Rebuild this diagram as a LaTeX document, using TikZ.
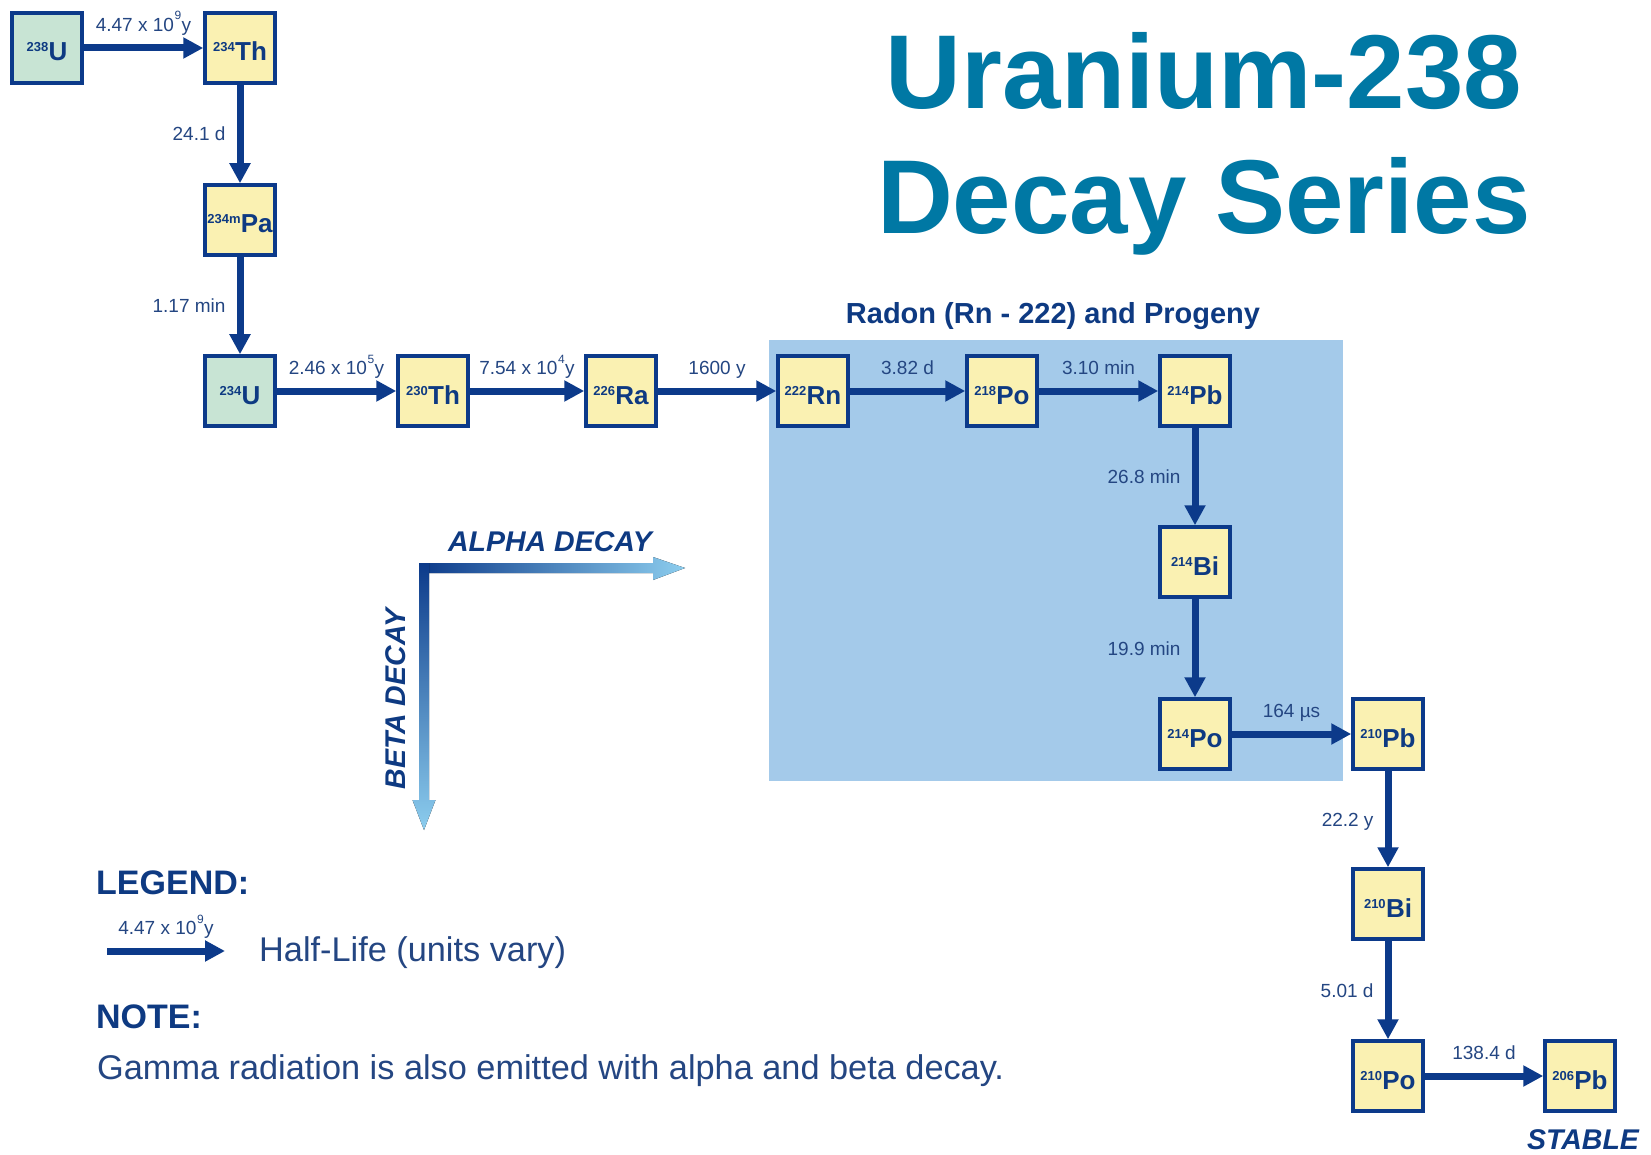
\documentclass[tikz,border=0pt]{standalone}
\usepackage{fontspec}
\setmainfont{Liberation Sans}
\usetikzlibrary{arrows.meta,calc}
\definecolor{navy}{RGB}{12,58,138}
\definecolor{navytext}{RGB}{14,58,130}
\definecolor{labc}{RGB}{36,70,130}
\definecolor{boxy}{RGB}{250,241,178}
\definecolor{boxg}{RGB}{200,228,212}
\definecolor{radbg}{RGB}{164,202,234}
\definecolor{titlec}{RGB}{0,120,164}
\definecolor{lightb}{RGB}{140,205,238}
\newcommand\iso[2]{\raisebox{9pt}{\fontsize{13}{13}\selectfont\bfseries #1}\kern0.3pt{\fontsize{26}{26}\selectfont\bfseries #2}}
\newcommand\expo[1]{\kern0.5pt\raisebox{11.5pt}{\fontsize{12}{12}\selectfont #1}\kern0.5pt}
\begin{document}
\begin{tikzpicture}[x=1pt,y=-1pt,
  isobox/.style={draw=navy, line width=3.5pt, minimum size=70pt, inner sep=0pt,
     fill=boxy, text height=26pt, text depth=0pt, text=navytext},
  isogreen/.style={isobox, fill=boxg},
  arr/.style={draw=navy, line width=7pt, -{Triangle[length=20pt,width=20pt]}},
  lab/.style={font=\fontsize{19}{19}\selectfont, text=labc, inner sep=0pt},
  hlab/.style={lab, midway, anchor=base, yshift=16.5pt},
  vlab/.style={lab, midway, anchor=base east, xshift=-11pt, yshift=-7pt},
  heading/.style={font=\fontsize{34}{34}\selectfont\bfseries, text=navytext, inner sep=0pt, anchor=base west},
  body/.style={font=\fontsize{34.3}{34.3}\selectfont, text=labc, inner sep=0pt, anchor=base west},
  axislab/.style={font=\fontsize{28.5}{28.5}\selectfont\bfseries\itshape, text=navytext, inner sep=0pt},
  titlefont/.style={font=\fontsize{105}{105}\selectfont\bfseries, text=titlec, inner sep=0pt, anchor=base}
  ]
\useasboundingbox (0,0) rectangle (1651,1155);
\fill[white] (0,0) rectangle (1651,1155);

% radon region
\fill[radbg] (769,340) rectangle (1342.5,781);
\node[font=\fontsize{29}{29}\selectfont\bfseries, text=navytext, inner sep=0pt, anchor=base] (radtitle) at (1053,324) {Radon (Rn - 222) and Progeny};

% title
\node[titlefont] (title1) at (1204,108.5) {Uranium-238};
\node[titlefont] (title2) at (1204,234) {Decay Series};

% nuclides
\node[isogreen] (u238)  at (47,48)    {\iso{238}{U}};
\node[isobox]   (th234) at (240,48)   {\iso{234}{Th}};
\node[isobox]   (pa234) at (240,220)  {\iso{234m}{Pa}};
\node[isogreen] (u234)  at (240,391)  {\iso{234}{U}};
\node[isobox]   (th230) at (433,391)  {\iso{230}{Th}};
\node[isobox]   (ra226) at (621,391)  {\iso{226}{Ra}};
\node[isobox]   (rn222) at (813,391)  {\iso{222}{Rn}};
\node[isobox]   (po218) at (1002,391) {\iso{218}{Po}};
\node[isobox]   (pb214) at (1195,391) {\iso{214}{Pb}};
\node[isobox]   (bi214) at (1195,562) {\iso{214}{Bi}};
\node[isobox]   (po214) at (1195,734) {\iso{214}{Po}};
\node[isobox]   (pb210) at (1388,734) {\iso{210}{Pb}};
\node[isobox]   (bi210) at (1388,904) {\iso{210}{Bi}};
\node[isobox]   (po210) at (1388,1076) {\iso{210}{Po}};
\node[isobox]   (pb206) at (1580,1076) {\iso{206}{Pb}};

% decays
\draw[arr] (u238) -- (th234) node[hlab] {4.47 x 10\expo{9}y};
\draw[arr] (th234) -- (pa234) node[vlab] {24.1 d};
\draw[arr] (pa234) -- (u234) node[vlab] {1.17 min};
\draw[arr] (u234) -- (th230) node[hlab] {2.46 x 10\expo{5}y};
\draw[arr] (th230) -- (ra226) node[hlab] {7.54 x 10\expo{4}y};
\draw[arr] (ra226) -- (rn222) node[hlab] {1600 y};
\draw[arr] (rn222) -- (po218) node[hlab] {3.82 d};
\draw[arr] (po218) -- (pb214) node[hlab] {3.10 min};
\draw[arr] (pb214) -- (bi214) node[vlab] {26.8 min};
\draw[arr] (bi214) -- (po214) node[vlab] {19.9 min};
\draw[arr] (po214) -- (pb210) node[hlab] {164 µs};
\draw[arr] (pb210) -- (bi210) node[vlab] {22.2 y};
\draw[arr] (bi210) -- (po210) node[vlab] {5.01 d};
\draw[arr] (po210) -- (pb206) node[hlab] {138.4 d};

\node[axislab, anchor=base] (stable) at (1583,1149) {STABLE};

% alpha / beta direction arrows
\fill[left color=navy, right color=lightb]
  (419,563) -- (653,563) -- (653,557) -- (685,568) -- (653,580) -- (653,573) -- (419,573) -- cycle;
\fill[top color=navy, bottom color=lightb]
  (419,563) -- (429,563) -- (429,800) -- (435.5,800) -- (424,830) -- (412.5,800) -- (419,800) -- cycle;
\node[axislab, anchor=base] (alpha) at (550,551.5) {ALPHA DECAY};
\node[axislab, rotate=90] (beta) at (396,699) {BETA DECAY};

% legend
\node[heading] (legend) at (96,894.5) {LEGEND:};
\coordinate (lga) at (107,951);
\coordinate (lgb) at (225,951);
\draw[arr] (lga) -- (lgb) node[hlab] {4.47 x 10\expo{9}y};
\node[body] (halflife) at (259,961) {Half-Life (units vary)};
\node[heading] (note) at (96,1028.5) {NOTE:};
\node[body] (gamma) at (97,1079) {Gamma radiation is also emitted with alpha and beta decay.};
\end{tikzpicture}
\end{document}
